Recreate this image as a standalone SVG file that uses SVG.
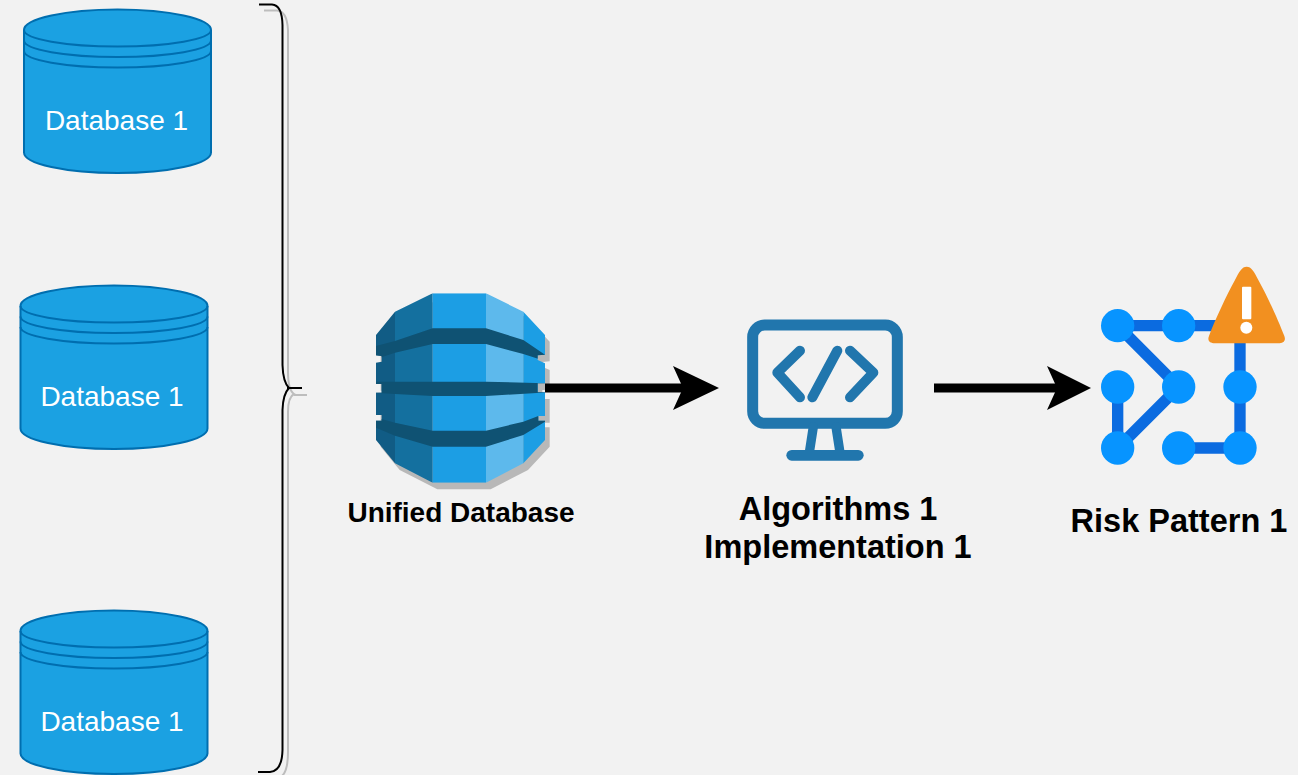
<svg xmlns="http://www.w3.org/2000/svg" xmlns:xlink="http://www.w3.org/1999/xlink" width="1298" height="775" viewBox="0 0 1298 775">
<style>
.cyl{fill:#1ba1e2;stroke:#006eaf;stroke-width:2}
.ln{fill:none;stroke:#006eaf;stroke-width:2}
.dbt{font:28px "Liberation Sans",Arial,sans-serif;fill:#fff;text-anchor:middle}
.lbl{font-family:"Liberation Sans",Arial,sans-serif;font-weight:700;fill:#000;text-anchor:middle}
.br{fill:none;stroke:#000;stroke-width:2}
.brs{fill:none;stroke:#bdbdbd;stroke-width:2}
.mon{fill:none;stroke:#2176ad;stroke-linecap:round;stroke-linejoin:round}
.edge{fill:none;stroke:#0b6be0;stroke-width:34}
.dot{fill:#0794ff}
.shaft{stroke:#000;stroke-width:9;fill:none}
</style>
<defs>
<g id="cylinder">
<path class="cyl" d="M0,21.500A93.500,20.500 0 0 1 187,21.500V144A93.500,20.500 0 0 1 0,144Z"/>
<path class="ln" d="M0,21.500A93.500,16.500 0 0 0 187,21.500"/>
<path class="ln" d="M0,32A93.500,16.500 0 0 0 187,32"/>
<path class="ln" d="M0,42.500A93.500,16.500 0 0 0 187,42.500"/>
</g>
<polygon id="sil" points="218,40 378,40 490,95 555,165 555,224 533,226 533,240 555,250 555,310 533,310 533,337 555,337 555,408 535,408 535,422 555,422 555,480 490,550 378,608 218,608 105,550 48,480 48,422 65,422 65,405 48,405 48,338 65,338 65,312 48,312 48,248 65,245 65,228 48,226 48,165 105,95"/>
<clipPath id="silc"><use xlink:href="#sil"/></clipPath>
</defs>
<rect width="1298" height="775" fill="#f2f2f2"/>
<g id="db1"><use xlink:href="#cylinder" x="24" y="8.500"/><text class="dbt" x="116.500" y="130">Database 1</text></g>
<g id="db2"><use xlink:href="#cylinder" x="20.500" y="284.500"/><text class="dbt" x="112" y="406">Database 1</text></g>
<g id="db3"><use xlink:href="#cylinder" x="20.500" y="609.500"/><text class="dbt" x="112" y="731">Database 1</text></g>
<g id="brace">
<path class="brs" d="M264,10.500H277Q287,11 288,30V372Q288,390 294,394Q288,397 288,412V752Q288,776 278,778H263"/>
<path class="brs" d="M294,395H307"/>
<path class="br" d="M259,4.500H272Q282,5 282.500,25V365Q283,382 289,388Q283,394 282.500,410V750Q282,771 270,772H258"/>
<path class="br" d="M287,388H302"/>
</g>
<g id="unified">
<g transform="translate(360,280) scale(.33333)">
<use xlink:href="#sil" x="14" y="20" fill="#b8b8b8"/>
<g clip-path="url(#silc)">
<rect x="40" y="30" width="65" height="590" fill="#115c85"/>
<rect x="105" y="30" width="113" height="590" fill="#14709f"/>
<rect x="218" y="30" width="160" height="590" fill="#1c9ee4"/>
<rect x="378" y="30" width="112" height="590" fill="#5db9ec"/>
<rect x="490" y="30" width="70" height="590" fill="#1c9ee4"/>
<polygon fill="#0f5273" points="40,200 105,183 218,145 378,145 490,180 560,228 560,245 490,222 378,192 218,192 105,218 40,240"/>
<polygon fill="#0f5273" points="40,305 105,305 378,305 560,310 560,337 378,348 218,348 105,342 40,338"/>
<polygon fill="#0f5273" points="40,410 105,428 218,452 378,452 490,425 535,408 560,422 490,465 378,500 218,500 105,467 40,440"/>
</g>
</g>
<text class="lbl" x="461" y="522" font-size="28">Unified Database</text>
</g>
<g id="algorithms">
<g transform="translate(730,310) scale(.33333)">
<rect class="mon" x="68" y="45" width="434" height="295" rx="36" stroke-width="33"/>
<path class="mon" stroke-width="30" d="M210,122L142,188L210,262M322,122L247,262M360,122L430,188L360,262"/>
<path class="mon" stroke-width="28" stroke-linecap="butt" d="M250,350L238,428M318,350L330,428"/>
<path class="mon" stroke-width="32" d="M185,436H385"/>
</g>
<text class="lbl" x="838" y="520" font-size="32.500">Algorithms 1</text>
<text class="lbl" x="838" y="558" font-size="32.500">Implementation 1</text>
</g>
<g id="risk">
<g transform="translate(1090,260) scale(.33333)">
<path class="edge" d="M83,197H420M83,197L266,381L83,564V381M450,230V564H266"/>
<circle class="dot" cx="83" cy="197" r="50"/><circle class="dot" cx="266" cy="197" r="50"/>
<circle class="dot" cx="83" cy="381" r="50"/><circle class="dot" cx="266" cy="381" r="50"/><circle class="dot" cx="450" cy="381" r="50"/>
<circle class="dot" cx="83" cy="564" r="50"/><circle class="dot" cx="266" cy="564" r="50"/><circle class="dot" cx="450" cy="564" r="50"/>
<path fill="#f29020" d="M470,20C484,20 492,34 505,60C530,105 565,180 583,228C589,244 578,250 565,250H375C360,250 351,243 357,228C375,180 410,105 435,60C448,34 456,20 470,20Z"/>
<rect x="456" y="80" width="28" height="98" rx="3" fill="#fff"/>
<circle cx="469" cy="203" r="18" fill="#fff"/>
</g>
<text class="lbl" x="1179" y="532" font-size="32.500">Risk Pattern 1</text>
</g>
<g id="connectors">
<line class="shaft" x1="545" y1="388" x2="684" y2="388"/>
<polygon points="719,388 673,366 683,388 673,410"/>
<line class="shaft" x1="934" y1="388" x2="1058" y2="388"/>
<polygon points="1091,388 1047,366 1057,388 1047,410"/>
</g>
</svg>
